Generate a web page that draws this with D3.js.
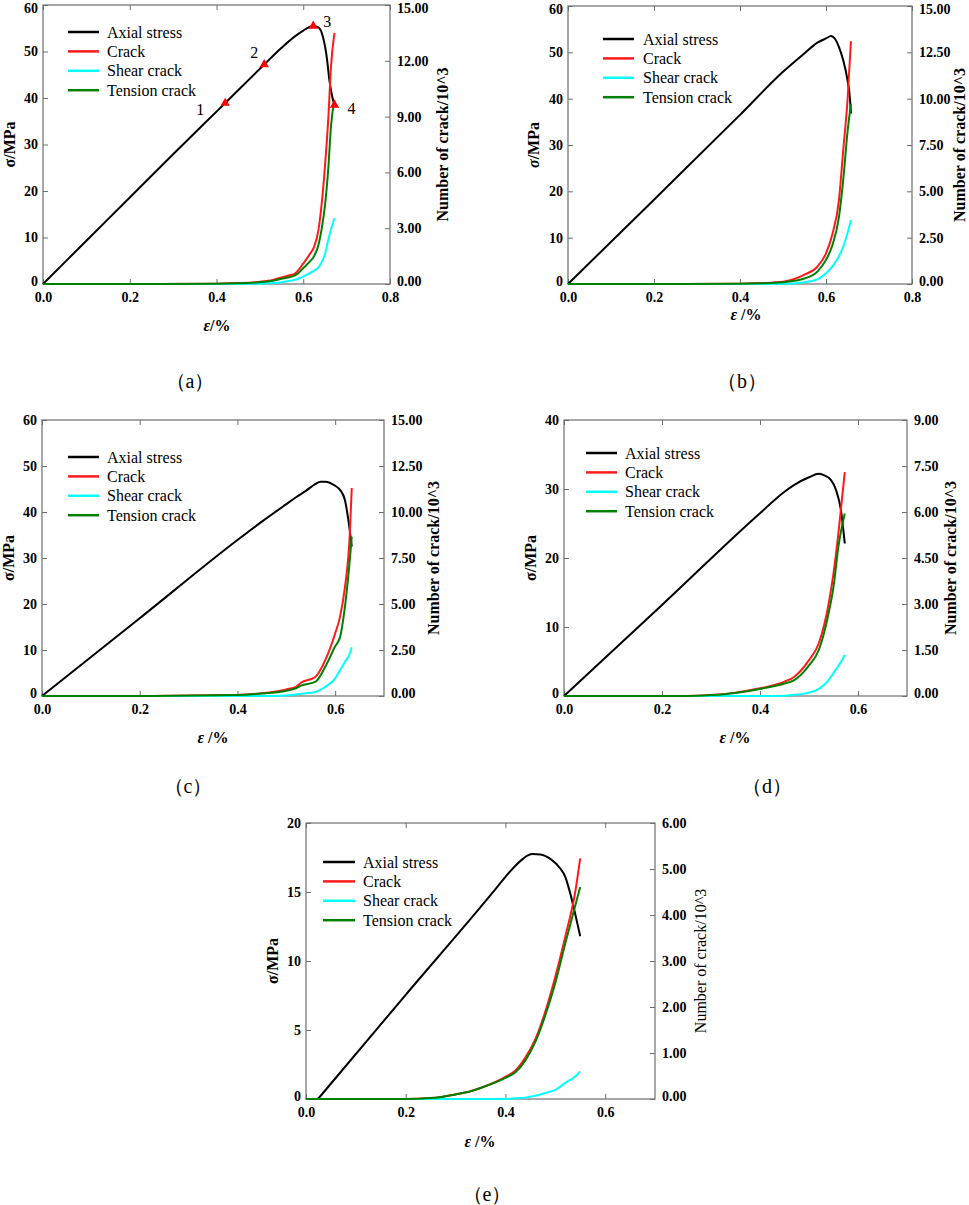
<!DOCTYPE html>
<html>
<head>
<meta charset="utf-8">
<script src="https://cdn.jsdelivr.net/npm/d3@7"></script>
<style>
body { margin: 0; background: #fff; }
svg text { font-family: "Liberation Serif", "Times New Roman", Tinos, "DejaVu Serif", serif; }
</style>
</head>
<body>
<div id="chart"></div>
<script>
// panel (a)
var aStrain = [0, 0.1, 0.2, 0.3, 0.42, 0.51, 0.55, 0.58, 0.6, 0.623, 0.635, 0.645, 0.655, 0.66, 0.667, 0.672];
var aStress = [0, 9.3, 18.6, 27.9, 38.9, 47.2, 50.8, 53.2, 54.5, 55.5, 55.2, 53.3, 48.2, 44.0, 40.2, 38.5];
var aCrackStrain = [0, 0.2, 0.4, 0.45, 0.5, 0.53, 0.55, 0.57, 0.58, 0.6, 0.615, 0.625, 0.635, 0.642, 0.65, 0.658, 0.664, 0.672];
var aCrack   = [0, 0, 0.02, 0.05, 0.12, 0.22, 0.35, 0.48, 0.55, 1.1, 1.6, 2.0, 2.9, 4.2, 6.3, 9.0, 11.7, 13.5];
var aShear   = [0, 0, 0, 0, 0.01, 0.05, 0.1, 0.18, 0.22, 0.4, 0.58, 0.72, 0.9, 1.15, 1.6, 2.4, 2.95, 3.55];
var aTension = [0, 0, 0.02, 0.04, 0.1, 0.18, 0.28, 0.38, 0.45, 0.85, 1.2, 1.5, 2.1, 2.9, 4.2, 6.3, 8.5, 9.9];
var aPointStrain = [0.42, 0.51, 0.623, 0.672];
var aPointStress = [38.9, 47.2, 55.5, 38.5];
var aPointLabels = ["1", "2", "3", "4"];

// panel (b)
var bStrain = [0, 0.2, 0.4, 0.5, 0.55, 0.58, 0.6, 0.612, 0.63, 0.64, 0.65, 0.656, 0.658];
var bStress = [0, 18.2, 36.5, 45.8, 49.8, 52.1, 53.0, 53.5, 51.2, 48.3, 44.0, 39.7, 36.8];
var bCrackStrain = [0, 0.2, 0.4, 0.45, 0.5, 0.55, 0.58, 0.6, 0.615, 0.63, 0.64, 0.65, 0.658];
var bCrack   = [0, 0, 0.02, 0.05, 0.12, 0.5, 0.94, 1.65, 2.7, 4.5, 7.2, 9.9, 13.1];
var bShear   = [0, 0, 0, 0, 0.01, 0.1, 0.25, 0.58, 0.95, 1.5, 2.0, 2.75, 3.45];
var bTension = [0, 0, 0.02, 0.04, 0.1, 0.3, 0.67, 1.3, 2.1, 3.6, 5.6, 8.2, 9.7];

// panel (c)
var cStrain = [0, 0.2, 0.4, 0.45, 0.5, 0.52, 0.54, 0.56, 0.57, 0.58, 0.6, 0.61, 0.62, 0.627, 0.634];
var cStress = [0, 16.9, 33.9, 37.9, 41.7, 43.2, 44.6, 46.1, 46.6, 46.6, 45.7, 44.8, 42.6, 38.3, 32.5];
var cCrackStrain = [0, 0.2, 0.4, 0.45, 0.5, 0.52, 0.53, 0.56, 0.58, 0.6, 0.61, 0.62, 0.63, 0.634];
var cCrack   = [0, 0, 0.05, 0.15, 0.36, 0.5, 0.72, 1.05, 1.96, 3.4, 4.3, 5.9, 8.8, 11.3];
var cShear   = [0, 0, 0, 0, 0.03, 0.08, 0.12, 0.22, 0.5, 0.96, 1.4, 1.85, 2.3, 2.65];
var cTension = [0, 0, 0.05, 0.13, 0.29, 0.42, 0.56, 0.78, 1.6, 2.7, 3.2, 4.85, 7.4, 8.66];

// panel (d)
var dStrain = [0, 0.2, 0.4, 0.45, 0.47, 0.5, 0.52, 0.53, 0.545, 0.555, 0.565, 0.573];
var dStress = [0, 13.2, 26.5, 29.6, 30.6, 31.7, 32.2, 32.0, 31.3, 29.9, 27.0, 22.1];
var dCrackStrain = [0, 0.25, 0.3, 0.35, 0.4, 0.45, 0.47, 0.5, 0.52, 0.54, 0.55, 0.56, 0.573];
var dCrack   = [0, 0, 0.03, 0.11, 0.25, 0.47, 0.63, 1.17, 1.72, 3.0, 4.0, 5.3, 7.3];
var dShear   = [0, 0, 0, 0, 0, 0.01, 0.04, 0.11, 0.23, 0.52, 0.75, 0.98, 1.34];
var dTension = [0, 0, 0.03, 0.1, 0.23, 0.41, 0.52, 1.0, 1.5, 2.7, 3.56, 4.87, 5.95];

// panel (e)
var eStrain = [0.024, 0.2, 0.35, 0.38, 0.4, 0.42, 0.435, 0.445, 0.455, 0.47, 0.49, 0.51, 0.52, 0.53, 0.54, 0.55];
var eStress = [0, 7.55, 13.9, 15.2, 16.1, 16.9, 17.4, 17.65, 17.75, 17.72, 17.4, 16.7, 16.1, 14.9, 13.4, 11.8];
var eCrackStrain = [0, 0.2, 0.25, 0.3, 0.33, 0.35, 0.4, 0.42, 0.44, 0.46, 0.48, 0.5, 0.52, 0.54, 0.55];
var eCrack   = [0, 0, 0.02, 0.1, 0.17, 0.24, 0.48, 0.62, 0.9, 1.3, 1.9, 2.66, 3.53, 4.5, 5.23];
var eShear   = [0, 0, 0, 0, 0, 0, 0, 0.015, 0.03, 0.07, 0.13, 0.2, 0.35, 0.49, 0.6];
var eTension = [0, 0, 0.02, 0.1, 0.17, 0.24, 0.46, 0.58, 0.84, 1.24, 1.82, 2.52, 3.38, 4.2, 4.61];

// ticks
var xTicksLong = [0, 0.2, 0.4, 0.6, 0.8];
var xTicksShort = [0, 0.2, 0.4, 0.6];
var stressTicks60 = [0, 10, 20, 30, 40, 50, 60];
var stressTicks40 = [0, 10, 20, 30, 40];
var stressTicks20 = [0, 5, 10, 15, 20];
var crackTicks15a = [0, 3, 6, 9, 12, 15];
var crackTicks15 = [0, 2.5, 5, 7.5, 10, 12.5, 15];
var crackTicks9 = [0, 1.5, 3, 4.5, 6, 7.5, 9];
var crackTicks6 = [0, 1, 2, 3, 4, 5, 6];

var legendNames = ["Axial stress", "Crack", "Shear crack", "Tension crack"];
var captions = ["（a）", "（b）", "（c）", "（d）", "（e）"];

var colors = {axial: "#000000", crack: "#ff1a1a", shear: "#00ffff", tension: "#008000"};
var frameColor = "#6e6e6e";

const width = 969, height = 1205;

var svg = d3.select("#chart").append("svg")
	.attr("width", width)
	.attr("height", height)
	.attr("viewBox", [0, 0, width, height]);

var panels = [
	{box: [43, 390, 5, 284], xMax: 0.8, xTicks: xTicksLong, yMax: 60, yTicks: stressTicks60, rMax: 15, rTicks: crackTicks15a,
	 strain: aStrain, stress: aStress, cStrain: aCrackStrain, crack: aCrack, shear: aShear, tension: aTension,
	 legend: [68, 99, 107, 32, 19.4], yLab: 9, rLab: 442, xLab: [217, 331], xText: "/%", cap: [190, 388],
	 italicSigma: false, rBold: true},
	{box: [568, 912, 6, 284], xMax: 0.8, xTicks: xTicksLong, yMax: 60, yTicks: stressTicks60, rMax: 15, rTicks: crackTicks15,
	 strain: bStrain, stress: bStress, cStrain: bCrackStrain, crack: bCrack, shear: bShear, tension: bTension,
	 legend: [603, 634, 643, 39, 19.4], yLab: 533, rLab: 959, xLab: [746, 320], xText: " /%", cap: [742, 388],
	 italicSigma: true, rBold: true},
	{box: [42, 384, 420, 696], xMax: 0.7, xTicks: xTicksShort, yMax: 60, yTicks: stressTicks60, rMax: 15, rTicks: crackTicks15,
	 strain: cStrain, stress: cStress, cStrain: cCrackStrain, crack: cCrack, shear: cShear, tension: cTension,
	 legend: [68, 99, 107, 457, 19.4], yLab: 8, rLab: 433, xLab: [213, 743], xText: " /%", cap: [188, 793],
	 italicSigma: false, rBold: true},
	{box: [564, 907, 420, 696], xMax: 0.7, xTicks: xTicksShort, yMax: 40, yTicks: stressTicks40, rMax: 9, rTicks: crackTicks9,
	 strain: dStrain, stress: dStress, cStrain: dCrackStrain, crack: dCrack, shear: dShear, tension: dTension,
	 legend: [586, 617, 625, 453, 19.4], yLab: 530, rLab: 950, xLab: [735, 743], xText: " /%", cap: [767, 793],
	 italicSigma: false, rBold: true},
	{box: [306, 655, 823, 1099], xMax: 0.7, xTicks: xTicksShort, yMax: 20, yTicks: stressTicks20, rMax: 6, rTicks: crackTicks6,
	 strain: eStrain, stress: eStress, cStrain: eCrackStrain, crack: eCrack, shear: eShear, tension: eTension,
	 legend: [323, 355, 363, 862, 19.4], yLab: 272, rLab: 700, xLab: [480, 1147], xText: " /%", cap: [487, 1201],
	 italicSigma: false, rBold: false}
];

panels.forEach(function(p, i) {
	var L = p.box[0], R = p.box[1], T = p.box[2], B = p.box[3];

	var x = d3.scaleLinear().domain([0, p.xMax]).range([L, R]);
	var y = d3.scaleLinear().domain([0, p.yMax]).range([B, T]);
	var yr = d3.scaleLinear().domain([0, p.rMax]).range([B, T]);

	var g = svg.append("g");

	//axes with inward ticks
	var styleAxis = function(sel) {
		sel.attr("font-family", null);
		sel.select(".domain").remove();
		sel.selectAll(".tick line").attr("stroke", frameColor);
		sel.selectAll(".tick text")
			.attr("fill", "#000")
			.style("font-size", "14px")
			.style("font-weight", "bold");
	};
	//keep a label at the very top of the page inside it, and lift the zero label off the x labels
	var nudge = function(sel, scale) {
		sel.selectAll(".tick text")
			.attr("dy", function(d) {
				if (scale(d) < 8) return "0.55em";
				if (d === 0) return "0.1em";
				return "0.32em";
			});
	};

	g.append("g").attr("transform", "translate(0," + B + ")")
		.call(d3.axisBottom(x).tickValues(p.xTicks).tickSize(-5).tickPadding(8).tickFormat(d3.format(".1f")))
		.call(styleAxis);
	g.append("g").attr("transform", "translate(0," + T + ")")
		.call(d3.axisTop(x).tickValues(p.xTicks).tickSize(-5).tickFormat(""))
		.call(styleAxis);
	g.append("g").attr("transform", "translate(" + L + ",0)")
		.call(d3.axisLeft(y).tickValues(p.yTicks).tickSize(-5).tickPadding(5).tickFormat(d3.format("d")))
		.call(styleAxis)
		.call(nudge, y);
	g.append("g").attr("transform", "translate(" + R + ",0)")
		.call(d3.axisRight(yr).tickValues(p.rTicks).tickSize(-5).tickPadding(7).tickFormat(d3.format(".2f")))
		.call(styleAxis)
		.call(nudge, yr);

	//frame
	g.append("rect")
		.attr("x", L).attr("y", T)
		.attr("width", R - L).attr("height", B - T)
		.attr("fill", "none")
		.attr("stroke", frameColor)
		.attr("stroke-width", 1.2);

	//curves
	var stressLine = d3.line()
		.x(function(d) { return x(d[0]); })
		.y(function(d) { return y(d[1]); })
		.curve(d3.curveMonotoneX);
	var crackLine = d3.line()
		.x(function(d) { return x(d[0]); })
		.y(function(d) { return yr(d[1]); })
		.curve(d3.curveMonotoneX);

	var pairs = function(xs, ys) { return xs.map(function(v, k) { return [v, ys[k]]; }); };

	g.append("path").datum(pairs(p.strain, p.stress))
		.attr("d", stressLine).attr("fill", "none")
		.attr("stroke", colors.axial).attr("stroke-width", 2);
	g.append("path").datum(pairs(p.cStrain, p.crack))
		.attr("d", crackLine).attr("fill", "none")
		.attr("stroke", colors.crack).attr("stroke-width", 2);
	g.append("path").datum(pairs(p.cStrain, p.shear))
		.attr("d", crackLine).attr("fill", "none")
		.attr("stroke", colors.shear).attr("stroke-width", 2);
	g.append("path").datum(pairs(p.cStrain, p.tension))
		.attr("d", crackLine).attr("fill", "none")
		.attr("stroke", colors.tension).attr("stroke-width", 2);

	//stage markers only on panel (a)
	if (i === 0) {
		var offsets = [[-25, 6], [-10, -12], [14, -5], [17, 3]];
		var pts = pairs(aPointStrain, aPointStress);
		g.selectAll(".marker").data(pts).enter().append("path")
			.attr("class", "marker")
			.attr("transform", function(d) { return "translate(" + x(d[0]) + "," + y(d[1]) + ")"; })
			.attr("d", d3.symbol(d3.symbolTriangle).size(38))
			.attr("fill", "#ff0000");
		g.selectAll(".mlabel").data(pts).enter().append("text")
			.attr("class", "mlabel")
			.attr("x", function(d, k) { return x(d[0]) + offsets[k][0]; })
			.attr("y", function(d, k) { return y(d[1]) + offsets[k][1]; })
			.attr("dy", "0.35em")
			.attr("text-anchor", "middle")
			.style("font-size", "16px")
			.text(function(d, k) { return aPointLabels[k]; });
	}

	//legend
	var legendColors = [colors.axial, colors.crack, colors.shear, colors.tension];
	var lg = p.legend;
	legendNames.forEach(function(name, k) {
		var ly = lg[3] + k * lg[4];
		g.append("line")
			.attr("x1", lg[0]).attr("x2", lg[1])
			.attr("y1", ly).attr("y2", ly)
			.attr("stroke", legendColors[k]).attr("stroke-width", 2.5);
		g.append("text")
			.attr("x", lg[2]).attr("y", ly).attr("dy", "0.35em")
			.style("font-size", "16px")
			.text(name);
	});

	//axis titles
	var yl = g.append("text")
		.attr("transform", "translate(" + p.yLab + "," + ((T + B) / 2) + ") rotate(-90)")
		.attr("text-anchor", "middle").attr("dy", "0.35em")
		.style("font-size", "16px").style("font-weight", "bold");
	yl.append("tspan").style("font-style", p.italicSigma ? "italic" : "normal").text("σ");
	yl.append("tspan").text("/MPa");

	g.append("text")
		.attr("transform", "translate(" + p.rLab + "," + ((T + B) / 2) + ") rotate(-90)")
		.attr("text-anchor", "middle").attr("dy", "0.35em")
		.style("font-size", "16px").style("font-weight", p.rBold ? "bold" : "normal")
		.text("Number of crack/10^3");

	var xl = g.append("text")
		.attr("x", p.xLab[0]).attr("y", p.xLab[1])
		.attr("text-anchor", "middle")
		.style("font-size", "16px").style("font-weight", "bold");
	xl.append("tspan").style("font-style", "italic").text("ε");
	xl.append("tspan").text(p.xText);

	//caption
	g.append("text")
		.attr("x", p.cap[0]).attr("y", p.cap[1])
		.attr("text-anchor", "middle")
		.style("font-size", "20px")
		.text(captions[i]);
});
</script>
</body>
</html>
